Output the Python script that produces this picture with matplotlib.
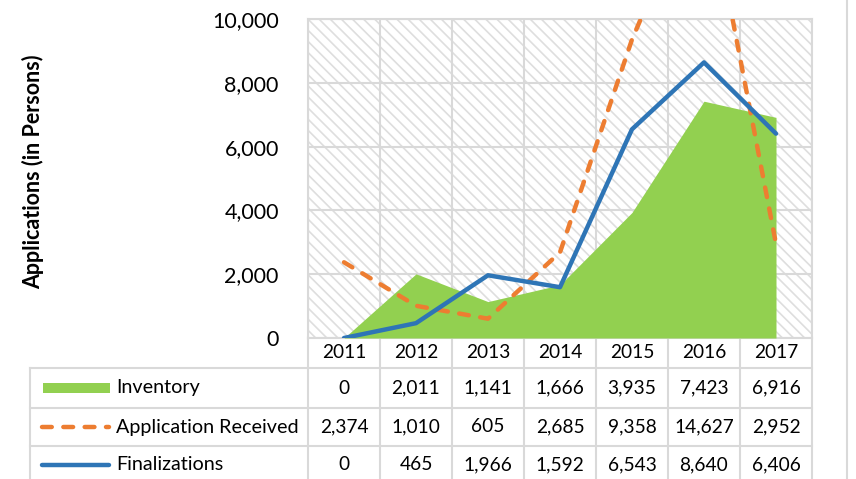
import matplotlib.pyplot as plt
from matplotlib.lines import Line2D
from matplotlib.patches import Rectangle

# datos del grafico
years = ['2011', '2012', '2013', '2014', '2015', '2016', '2017']
inventory = [0, 2011, 1141, 1666, 3935, 7423, 6916]
received = [2374, 1010, 605, 2685, 9358, 14627, 2952]
finalizations = [0, 465, 1966, 1592, 6543, 8640, 6406]
series_names = ['Inventory', 'Application Received', 'Finalizations']
y_ticks = [0, 2000, 4000, 6000, 8000, 10000]

GREEN = '#92D050'
ORANGE = '#ED7D31'
BLUE = '#2E75B6'
GRIS = '#d9d9d9'

plt.rcParams['font.family'] = ['Lato', 'DejaVu Sans']
plt.rcParams['hatch.color'] = '#dedede'
plt.rcParams['hatch.linewidth'] = 1.2

W, H = 856, 479
fig = plt.figure(figsize=(W / 100, H / 100), dpi=100)

# area del grafico en pixeles
x0, x1, ytop, ybot = 308, 812, 19, 338
ax = fig.add_axes([x0 / W, 1 - ybot / H, (x1 - x0) / W, (ybot - ytop) / H])

ax.add_patch(Rectangle((0, 0), 1, 1, transform=ax.transAxes, facecolor='white',
                       hatch='\\\\\\', lw=0, zorder=0))

xs = [i + 0.5 for i in range(len(years))]
ax.fill_between(xs, 0, inventory, color=GREEN, lw=0, zorder=2)
ax.plot(xs, received, color=ORANGE, lw=3.2, linestyle=(0, (2.2, 2.6)),
        dash_capstyle='round', dash_joinstyle='round', zorder=3)
ax.plot(xs, finalizations, color=BLUE, lw=3.2, solid_joinstyle='round',
        solid_capstyle='round', zorder=4)

ax.set_xlim(0, len(years))
ax.set_ylim(0, 10000)
ax.set_xticks(range(len(years) + 1))
ax.set_xticklabels([])
ax.set_yticks(y_ticks)
ax.set_yticklabels([f'{v:,}' for v in y_ticks], fontsize=15.5)
ax.tick_params(length=0, pad=21)
ax.grid(True, color=GRIS, lw=1.5, zorder=1)
ax.set_axisbelow(True)
for s in ax.spines.values():
    s.set_color(GRIS)
    s.set_linewidth(1.5)
    s.set_zorder(1)

fig.text(33 / W, 1 - 172 / H, 'Applications (in Persons)', rotation=90,
         ha='center', va='center', fontsize=15.5, fontweight='bold')

# tabla de datos debajo del grafico
tab = fig.add_axes([0, 0, 1, 1], zorder=-1)
tab.set_xlim(0, W)
tab.set_ylim(H, 0)
tab.axis('off')

col_w = (x1 - x0) / len(years)
row_lines = [368, 408, 446]
row_centers = [388, 427, 465]

for i in range(len(years) + 1):
    tab.plot([x0 + i * col_w] * 2, [ybot, H], color=GRIS, lw=1.5)
tab.plot([30, 30], [368, H], color=GRIS, lw=1.5)
for y in row_lines:
    tab.plot([30, x1], [y, y], color=GRIS, lw=1.5)
tab.plot([847, 847], [0, H], color=GRIS, lw=1.5)

for i, yr in enumerate(years):
    tab.text(x0 + (i + 0.5) * col_w, 353, yr, ha='center', va='center', fontsize=13.8)

for r, vals in enumerate([inventory, received, finalizations]):
    for i, v in enumerate(vals):
        tab.text(x0 + (i + 0.5) * col_w, row_centers[r], f'{v:,}',
                 ha='center', va='center', fontsize=13.8)
    tab.text(116, row_centers[r], series_names[r], ha='left', va='center', fontsize=14.2)

# claves de la leyenda
tab.add_patch(Rectangle((43, 383), 67, 10, facecolor=GREEN, lw=0))
tab.add_line(Line2D([42, 109], [427, 427], color=ORANGE, lw=3.2,
                    linestyle=(0, (2.2, 2.6)), dash_capstyle='round'))
tab.add_line(Line2D([42, 109], [465, 465], color=BLUE, lw=3.2,
                    solid_capstyle='round'))

plt.savefig('out.png', dpi=100)
plt.close()
